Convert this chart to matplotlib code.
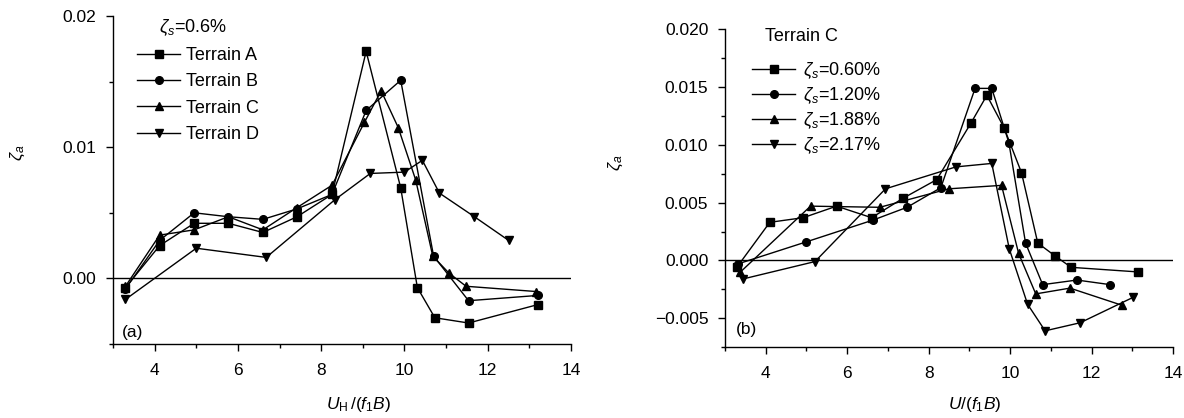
import matplotlib
matplotlib.use("Agg")
import matplotlib.pyplot as plt
from matplotlib.ticker import MultipleLocator, FixedLocator, FuncFormatter

plt.rcParams['font.family'] = ['Liberation Sans', 'DejaVu Sans']
plt.rcParams['mathtext.fontset'] = 'custom'
plt.rcParams['mathtext.rm'] = 'Liberation Sans'
plt.rcParams['mathtext.it'] = 'Liberation Sans:italic'
plt.rcParams['mathtext.bf'] = 'Liberation Sans:bold'

# ---------------- data: panel (a) ----------------
xA = [3.3, 4.12, 4.95, 5.77, 6.6, 7.42, 8.26, 9.08, 9.91, 10.31, 10.73, 11.54, 13.2]
yA = [-0.0007, 0.0025, 0.0042, 0.0042, 0.0035, 0.0047, 0.0064, 0.0173, 0.0069, -0.0007, -0.0030, -0.0034, -0.0020]
xB = [3.3, 4.12, 4.95, 5.77, 6.6, 7.42, 8.26, 9.08, 9.91, 10.7, 11.54, 13.2]
yB = [-0.0008, 0.0029, 0.0050, 0.0047, 0.0045, 0.0053, 0.0064, 0.0128, 0.0151, 0.0017, -0.0017, -0.0013]
xC = [3.3, 4.12, 4.95, 5.77, 6.6, 7.42, 8.26, 9.04, 9.44, 9.85, 10.27, 10.68, 11.07, 11.48, 13.16]
yC = [-0.0006, 0.0033, 0.0037, 0.0047, 0.0037, 0.0054, 0.0071, 0.0119, 0.0143, 0.0115, 0.0075, 0.0017, 0.0004, -0.0006, -0.0010]
xD = [3.3, 5.0, 6.68, 8.33, 9.18, 10.0, 10.43, 10.84, 11.68, 12.5]
yD = [-0.0016, 0.0023, 0.0016, 0.0060, 0.0080, 0.0081, 0.0090, 0.0065, 0.0047, 0.0029]
labels_a = ['Terrain A', 'Terrain B', 'Terrain C', 'Terrain D']

# ---------------- data: panel (b) ----------------
x060 = [3.3, 4.1, 4.92, 5.74, 6.6, 7.38, 8.2, 9.04, 9.43, 9.85, 10.28, 10.68, 11.1, 11.5, 13.15]
y060 = [-0.00055, 0.0033, 0.0037, 0.0047, 0.0037, 0.0054, 0.0070, 0.0119, 0.0143, 0.0115, 0.0076, 0.0015, 0.0004, -0.0006, -0.0010]
x120 = [3.32, 4.99, 6.64, 7.47, 8.3, 9.14, 9.55, 9.97, 10.38, 10.8, 11.64, 12.46]
y120 = [-0.0003, 0.0016, 0.0035, 0.0046, 0.0063, 0.0149, 0.0149, 0.0102, 0.0015, -0.0021, -0.0017, -0.0021]
x188 = [3.38, 5.1, 6.8, 8.49, 9.79, 10.21, 10.63, 11.47, 12.76]
y188 = [-0.0010, 0.0047, 0.0046, 0.0062, 0.0065, 0.0006, -0.0029, -0.0024, -0.0039]
x217 = [3.45, 5.21, 6.94, 8.67, 9.55, 9.98, 10.43, 10.86, 11.72, 13.02]
y217 = [-0.0016, -0.0001, 0.0062, 0.0081, 0.0084, 0.0010, -0.0038, -0.0061, -0.0054, -0.0032]
labels_b = [r'$\zeta_s$=0.60%', r'$\zeta_s$=1.20%', r'$\zeta_s$=1.88%', r'$\zeta_s$=2.17%']

markers = ['s', 'o', '^', 'v']
FS = 12.5
LFS = 13
W, H = 1184, 418

fig = plt.figure(figsize=(W / 100, H / 100), dpi=100)
axa = fig.add_axes([113 / W, 1 - 344 / H, (571 - 113) / W, (344 - 16) / H])
axb = fig.add_axes([725 / W, 1 - 347 / H, (1173 - 725) / W, (347 - 29.5) / H])


def style(ax):
    for s in ['top', 'right']:
        ax.spines[s].set_visible(False)
    for s in ['left', 'bottom']:
        ax.spines[s].set_linewidth(1.0)
    ax.tick_params(which='major', direction='out', length=5, width=1.0, labelsize=FS)
    ax.tick_params(which='minor', direction='out', length=3, width=1.0)
    ax.tick_params(axis='x', pad=9)
    ax.tick_params(axis='y', pad=7)
    ax.set_xlim(3, 14)
    ax.xaxis.set_major_locator(MultipleLocator(2))
    ax.xaxis.set_minor_locator(MultipleLocator(1))
    ax.axhline(0, color='black', lw=1.0, zorder=1)


# panel (a)
style(axa)
for xs, ys, m, lab in zip([xA, xB, xC, xD], [yA, yB, yC, yD], markers, labels_a):
    axa.plot(xs, ys, color='black', lw=1.0, marker=m, ms=5.5, label=lab, zorder=3)
axa.set_ylim(-0.005, 0.02)
axa.yaxis.set_major_locator(FixedLocator([0.0, 0.01, 0.02]))
axa.yaxis.set_minor_locator(MultipleLocator(0.005))
axa.yaxis.set_major_formatter(FuncFormatter(lambda v, p: f'{v:.2f}'))
axa.text(4.1, 0.0191, r'$\zeta_s$=0.6%', fontsize=LFS, ha='left', va='center')
axa.text(3.22, -0.0041, '(a)', fontsize=FS, ha='left', va='center')
axa.legend(loc='upper left', bbox_to_anchor=(137 / W, 1 - 47 / H), bbox_transform=fig.transFigure,
           frameon=False, fontsize=LFS, handlelength=2.4, handletextpad=0.3,
           labelspacing=0.52, borderpad=0, borderaxespad=0, numpoints=1)

# panel (b)
style(axb)
for xs, ys, m, lab in zip([x060, x120, x188, x217], [y060, y120, y188, y217], markers, labels_b):
    axb.plot(xs, ys, color='black', lw=1.0, marker=m, ms=5.5, label=lab, zorder=3)
axb.set_ylim(-0.0075, 0.02)
axb.yaxis.set_major_locator(FixedLocator([-0.005, 0.0, 0.005, 0.01, 0.015, 0.02]))
axb.yaxis.set_minor_locator(MultipleLocator(0.0025))
axb.yaxis.set_major_formatter(FuncFormatter(lambda v, p: f'{v:.3f}'.replace('-', '\u2212') if abs(v) > 1e-9 else '0.000'))
axb.text(3.99, 0.0194, 'Terrain C', fontsize=LFS, ha='left', va='center')
axb.text(3.26, -0.0060, '(b)', fontsize=FS, ha='left', va='center')
axb.legend(loc='upper left', bbox_to_anchor=(752 / W, 1 - 60 / H), bbox_transform=fig.transFigure,
           frameon=False, fontsize=LFS, handlelength=2.4, handletextpad=0.4,
           labelspacing=0.24, borderpad=0, borderaxespad=0, numpoints=1)

# axis labels
fig.text(18 / W, 1 - 153 / H, r'$\zeta_a$', rotation=90, fontsize=FS, ha='center', va='center')
fig.text(616 / W, 1 - 163 / H, r'$\zeta_a$', rotation=90, fontsize=FS, ha='center', va='center')
fig.text(359 / W, 1 - 404 / H, r'$U_{\mathrm{H}}\,/(f_1B)$', fontsize=FS, ha='center', va='center')
fig.text(975 / W, 1 - 404 / H, r'$U/(f_1B)$', fontsize=FS, ha='center', va='center')

fig.savefig('out.png', dpi=100)
